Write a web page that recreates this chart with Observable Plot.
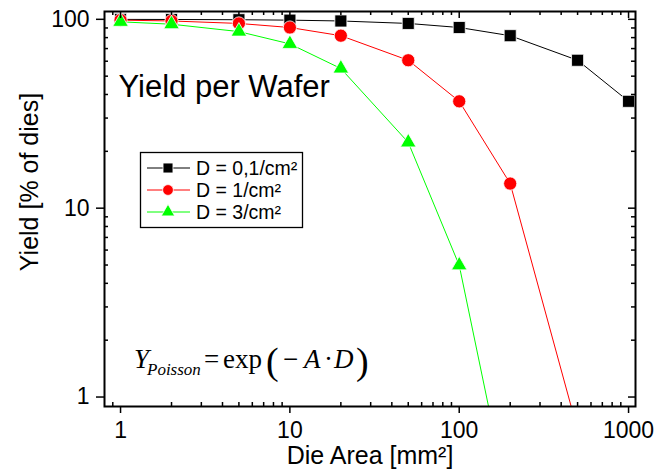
<!DOCTYPE html>
<html>
<head>
<meta charset="utf-8">
<script src="https://cdn.jsdelivr.net/npm/d3@7"></script>
<script src="https://cdn.jsdelivr.net/npm/@observablehq/plot@0.6"></script>
<style>
  html, body { margin: 0; padding: 0; background: white; }
  svg { display: block; }
</style>
</head>
<body>
<div id="chart"></div>
<script>
// ---- data ----
const areas = [1, 2, 5, 10, 20, 50, 100, 200, 500, 1000];           // die area, mm²
const yieldD01 = [99.9, 99.8, 99.5, 99.0, 98.0, 95.1, 90.5, 81.9, 60.7, 36.8];
const yieldD1  = [99.0, 98.0, 95.1, 90.5, 81.9, 60.7, 36.8, 13.5, 0.67, 0.0045];
const yieldD3  = [97.0, 94.2, 86.1, 74.1, 54.9, 22.3, 4.98, 0.25, 0.00003, 0.0000000001];
const seriesNames = ["D = 0,1/cm²", "D = 1/cm²", "D = 3/cm²"];
const seriesColors = ["#000000", "#ff0000", "#00ff00"];
const seriesSymbols = ["square", "circle", "triangle"];
const seriesR = [6.8, 6.6, 5.8];
const xMajor = [1, 10, 100, 1000];
const xMinor = [0.9, 2, 3, 4, 5, 6, 7, 8, 9, 20, 30, 40, 50, 60, 70, 80, 90, 200, 300, 400, 500, 600, 700, 800, 900];
const yMajor = [1, 10, 100];
const yMinor = [2, 3, 4, 5, 6, 7, 8, 9, 20, 30, 40, 50, 60, 70, 80, 90];
const xLabel = "Die Area [mm²]";
const yLabel = "Yield [% of dies]";
const title = "Yield per Wafer";

const allSeries = [yieldD01, yieldD1, yieldD3];
const rows = allSeries.flatMap((ys, s) => areas.map((a, i) => ({series: s, area: a, y: ys[i]})));

const W = 657, H = 470;
const mL = 104, mR = 22, mT = 11, mB = 64;
const innerH = H - mT - mB, innerW = W - mL - mR;
const font = "Liberation Sans, Arial, sans-serif";

const chart = Plot.plot({
  width: W, height: H,
  marginLeft: mL, marginRight: mR, marginTop: mT, marginBottom: mB,
  style: {fontFamily: font, background: "white", color: "black"},
  x: {type: "log", domain: [0.804, 1099], axis: null},
  y: {type: "log", domain: [0.891, 110], axis: null},
  marks: [
    // lines
    ...allSeries.map((ys, s) => Plot.line(rows.filter(d => d.series === s), {
      x: "area", y: "y", stroke: seriesColors[s], strokeWidth: 1, clip: true
    })),
    // markers
    ...allSeries.map((ys, s) => Plot.dot(rows.filter(d => d.series === s), {
      x: "area", y: "y", symbol: seriesSymbols[s], fill: seriesColors[s], r: seriesR[s],
      stroke: "white", strokeWidth: 0.8, clip: true
    })),
    // ticks: bottom (major out, minor in)
    Plot.tickX(xMajor, {x: d => d, insetTop: innerH, insetBottom: -7, stroke: "black", strokeWidth: 1.5}),
    Plot.tickX(xMinor, {x: d => d, insetTop: innerH - 4, stroke: "black", strokeWidth: 1.5}),
    // top (inward)
    Plot.tickX(xMajor, {x: d => d, insetBottom: innerH - 7, stroke: "black", strokeWidth: 1.5}),
    Plot.tickX(xMinor, {x: d => d, insetBottom: innerH - 4, stroke: "black", strokeWidth: 1.5}),
    // left (major out, minor in)
    Plot.tickY(yMajor, {y: d => d, insetRight: innerW, insetLeft: -8, stroke: "black", strokeWidth: 1.5}),
    Plot.tickY(yMinor, {y: d => d, insetRight: innerW - 4, stroke: "black", strokeWidth: 1.5}),
    // right (inward)
    Plot.tickY(yMajor, {y: d => d, insetLeft: innerW - 7, stroke: "black", strokeWidth: 1.5}),
    Plot.tickY(yMinor, {y: d => d, insetLeft: innerW - 4, stroke: "black", strokeWidth: 1.5}),
    Plot.frame({stroke: "black", strokeWidth: 2}),
    // tick labels
    Plot.text(xMajor, {x: d => d, text: d => String(d), frameAnchor: "bottom", dy: 31,
      textAnchor: "middle", lineAnchor: "bottom", fontSize: 23, fill: "black"}),
    Plot.text(yMajor, {y: d => d, text: d => String(d), frameAnchor: "left", dx: -15,
      textAnchor: "end", lineAnchor: "middle", fontSize: 23, fill: "black"}),
    // axis labels
    Plot.text([xLabel], {text: d => d, frameAnchor: "bottom", dy: 57, lineAnchor: "bottom",
      textAnchor: "middle", fontSize: 25, fill: "black"}),
    Plot.text([yLabel], {text: d => d, frameAnchor: "left", dx: -67, dy: -27, rotate: -90,
      textAnchor: "middle", lineAnchor: "bottom", fontSize: 25, fill: "black"}),
    // title inside plot
    Plot.text([title], {text: d => d, frameAnchor: "top-left", dx: 14, dy: 85,
      textAnchor: "start", lineAnchor: "bottom", fontSize: 31, fill: "black"})
  ]
});

// ---- legend ----
const svg = d3.select(chart);
const lg = svg.append("g").attr("font-family", font).attr("text-anchor", "start");
lg.append("rect").attr("x", 140.5).attr("y", 152.5).attr("width", 162).attr("height", 75)
  .attr("fill", "white").attr("stroke", "black").attr("stroke-width", 1.3);
const symMap = {square: d3.symbolSquare, circle: d3.symbolCircle, triangle: d3.symbolTriangle};
const legR = [5.6, 5.4, 5.0];
seriesNames.forEach((name, i) => {
  const cy = 168 + i * 22;
  lg.append("line").attr("x1", 147).attr("x2", 190).attr("y1", cy).attr("y2", cy)
    .attr("stroke", seriesColors[i]).attr("stroke-width", 1);
  lg.append("path").attr("transform", `translate(168,${cy})`)
    .attr("d", d3.symbol(symMap[seriesSymbols[i]], Math.PI * legR[i] * legR[i])())
    .attr("fill", seriesColors[i]).attr("stroke", "white").attr("stroke-width", 0.8);
  lg.append("text").attr("x", 196).attr("y", cy + 7).attr("font-size", 19.5)
    .attr("text-anchor", "start").attr("fill", "black").text(name);
});

// ---- formula ----
const f = svg.append("text").attr("font-family", "Liberation Serif, Times New Roman, serif")
  .attr("text-anchor", "start")
  .attr("font-size", 27).attr("fill", "black").attr("y", 368);
f.append("tspan").attr("x", 134).attr("font-style", "italic").text("Y");
f.append("tspan").attr("x", 147).attr("y", 375).attr("font-size", 17).attr("font-style", "italic").text("Poisson");
f.append("tspan").attr("x", 204).attr("y", 368).text("=");
f.append("tspan").attr("x", 223).text("exp");
f.append("tspan").attr("x", 266).attr("y", 374).attr("font-size", 38).attr("font-weight", "200").text("(");
f.append("tspan").attr("x", 283).attr("y", 368).text("−");
f.append("tspan").attr("x", 304).attr("font-style", "italic").text("A");
f.append("tspan").attr("x", 324).text("·");
f.append("tspan").attr("x", 334).attr("font-style", "italic").text("D");
f.append("tspan").attr("x", 356).attr("y", 374).attr("font-size", 38).attr("font-weight", "200").text(")");

document.getElementById("chart").appendChild(chart);
</script>
</body>
</html>
